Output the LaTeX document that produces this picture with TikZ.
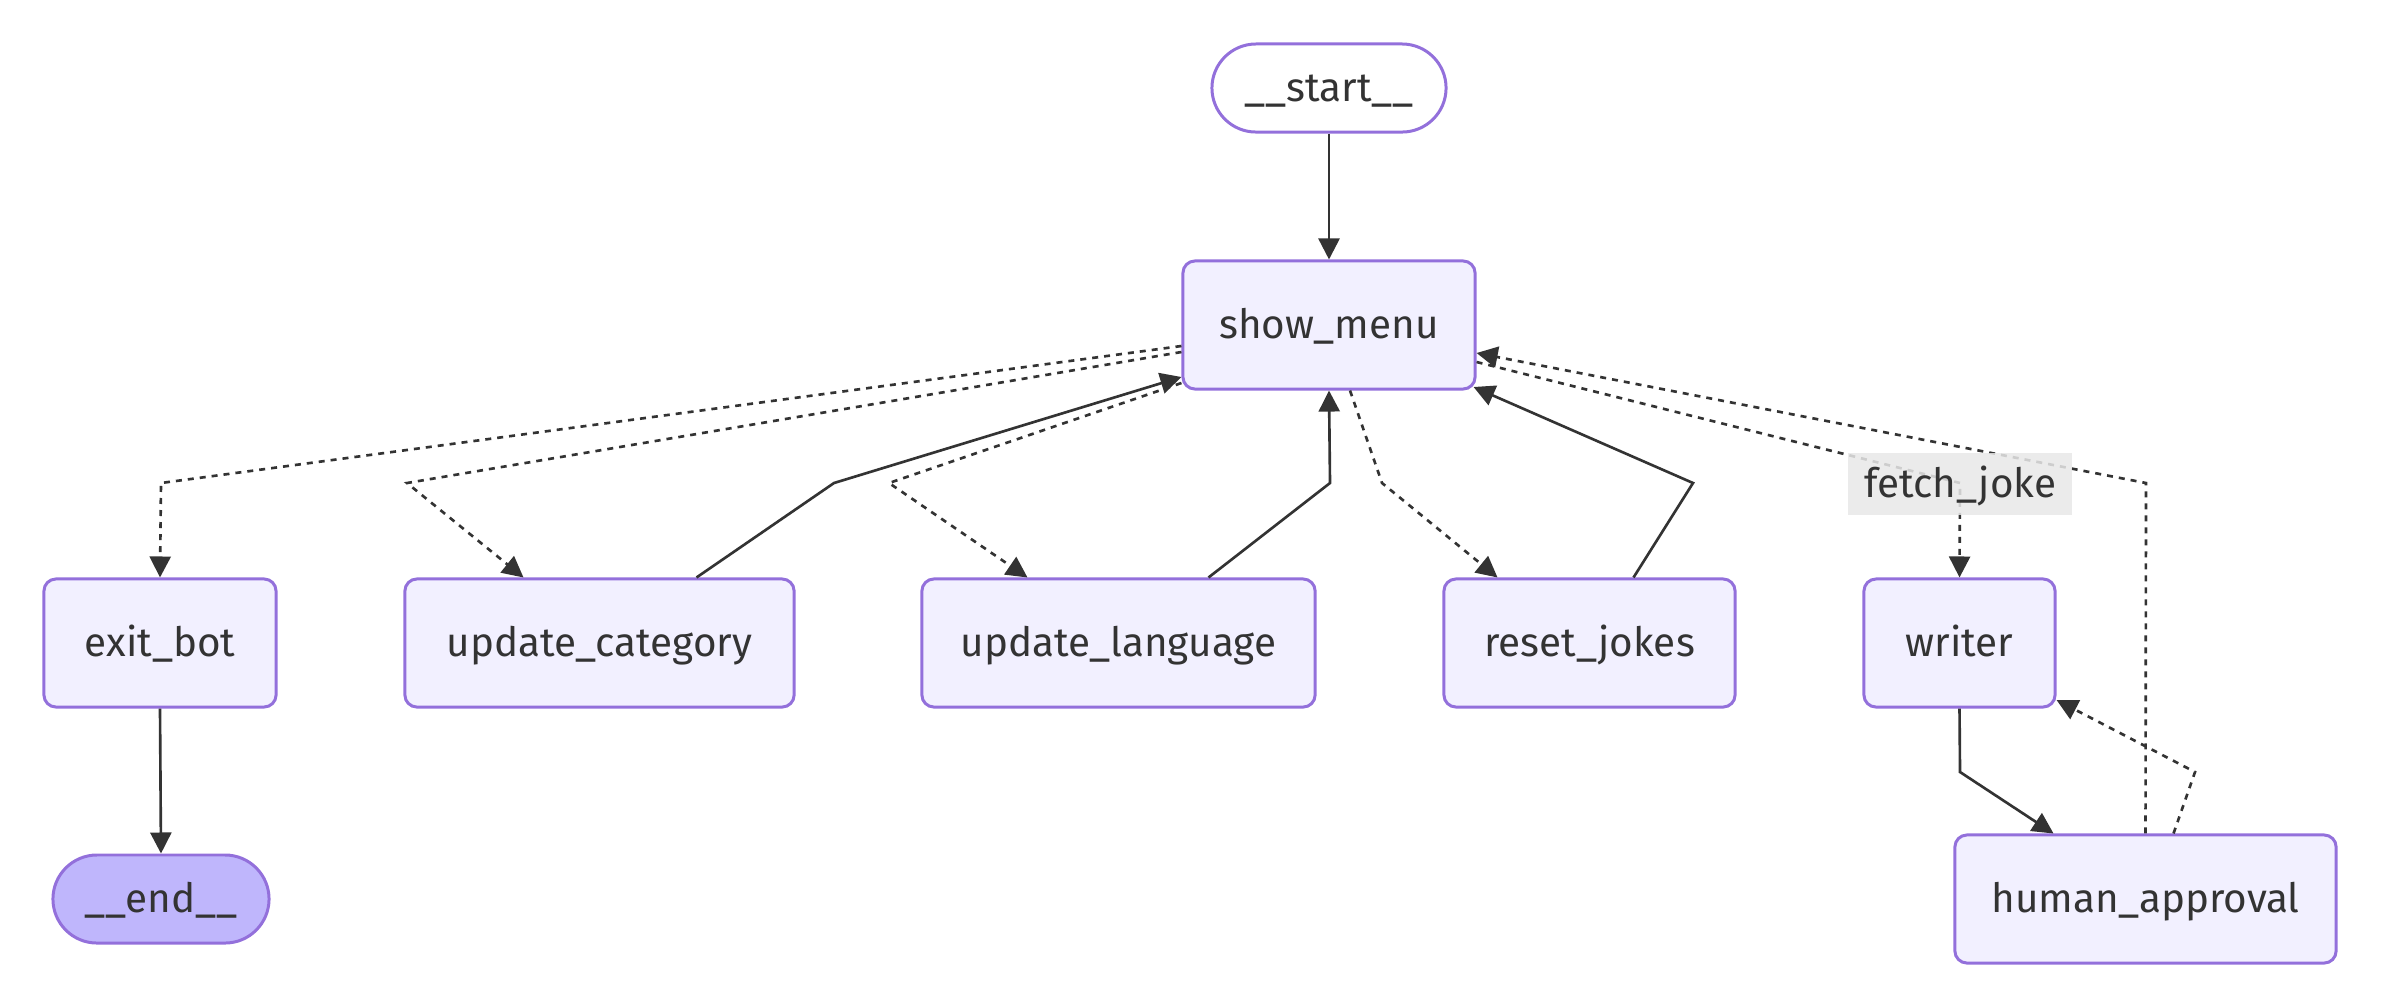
\documentclass[tikz,border=0pt]{standalone}
\usepackage{fontspec}
\setmainfont{Fira Sans}
\usetikzlibrary{arrows.meta,calc}
\definecolor{mpurple}{HTML}{9370DB}
\definecolor{mfill}{HTML}{F2F0FF}
\definecolor{mlast}{HTML}{BFB6FC}
\definecolor{medge}{HTML}{333333}
\definecolor{mtext}{HTML}{333333}
\definecolor{mlabel}{HTML}{E8E8E8}
\tikzset{
  nodebox/.style={draw=mpurple, fill=mfill, line width=0.85pt, rounded corners=0.12cm,
    text=mtext, font=\fontsize{11.5}{13}\selectfont, inner sep=0pt, minimum height=1.28cm,
    text height=0.34cm, text depth=0.08cm},
  stadium/.style={nodebox, rounded corners=0.44cm, minimum height=0.88cm},
  edge/.style={draw=medge, line width=0.75pt, -{Triangle[length=0.21cm,width=0.21cm]}},
  dotedge/.style={edge, dash pattern=on 0.06cm off 0.06cm},
  elabel/.style={fill=mlabel, fill opacity=0.85, text opacity=1, text=mtext,
    font=\fontsize{11.5}{13}\selectfont, inner sep=0pt, minimum width=2.23cm, minimum height=0.61cm,
    text height=0.34cm, text depth=0.08cm}
}
\begin{document}
\begin{tikzpicture}[x=0.01cm,y=-0.01cm]
\useasboundingbox (0,0) rectangle (2382,996);
% nodes
\node[stadium, fill=none, minimum width=2.34cm] (start) at (1329,88) {\_\_start\_\_};
\node[nodebox, minimum width=2.92cm] (sm) at (1329,325) {show\_menu};
\node[nodebox, minimum width=2.32cm] (exit) at (160,643) {exit\_bot};
\node[nodebox, minimum width=3.89cm] (cat) at (599.5,643) {update\_category};
\node[nodebox, minimum width=3.93cm] (lang) at (1118.5,643) {update\_language};
\node[nodebox, minimum width=2.91cm] (reset) at (1589.5,643) {reset\_jokes};
\node[nodebox, minimum width=1.91cm] (writer) at (1959.5,643) {writer};
\node[nodebox, minimum width=3.81cm] (ha) at (2145.5,899) {human\_approval};
\node[stadium, fill=mlast, minimum width=2.16cm] (end) at (161,899) {\_\_end\_\_};
% edges
\draw[edge] (start.south) -- (sm.north);
\draw[dotedge] ($(sm.west)+(0,21)$) -- (161,483) -- (exit.north);
\draw[dotedge] ($(sm.west)+(0,27)$) -- (407,483) -- ($(cat.north)+(-76,0)$);
\draw[edge] ($(cat.north)+(97,0)$) -- (834,483) -- ($(sm.west)+(0,52)$);
\draw[dotedge] ($(sm.west)+(0,58)$) -- (889,483) -- ($(lang.north)+(-91,0)$);
\draw[edge] ($(lang.north)+(90,0)$) -- (1330,483) -- (sm.south);
\draw[dotedge] ($(sm.south)+(21,0)$) -- (1382,483) -- ($(reset.north)+(-92,0)$);
\draw[edge] ($(reset.north)+(44,0)$) -- (1693,483) -- ($(sm.east)+(-3,62)$);
\draw[dotedge] ($(sm.east)+(0,37)$) -- (1960,483) -- (writer.north);
\draw[dotedge] (ha.north) -- (2146,483) -- ($(sm.east)+(0,28)$);
\draw[edge] (writer.south) -- (1960,772) -- ($(ha.north)+(-92,0)$);
\draw[dotedge] ($(ha.north)+(28,0)$) -- (2195,772) -- ($(writer.east)+(0,57)$);
\draw[edge] (exit.south) -- (end.north);
% edge label
\node[elabel] (fj) at (1960,484) {fetch\_joke};
\end{tikzpicture}
\end{document}
